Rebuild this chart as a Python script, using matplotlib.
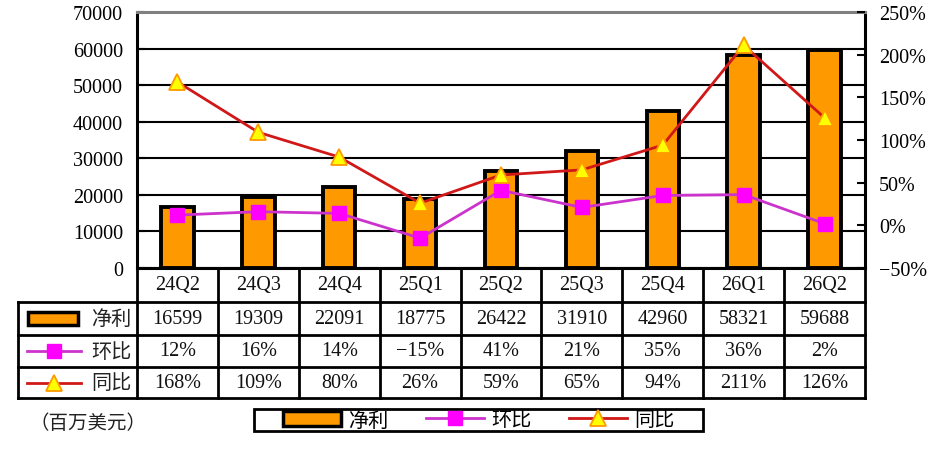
import matplotlib
matplotlib.use('Agg')
import matplotlib.pyplot as plt
import matplotlib.transforms as mtransforms
from matplotlib.lines import Line2D
from matplotlib.patches import Patch, Rectangle
from matplotlib.ticker import FuncFormatter, MultipleLocator

plt.rcParams['font.family'] = ['Liberation Serif', 'Noto Sans CJK SC']
plt.rcParams['axes.unicode_minus'] = True

quarters = ['24Q2', '24Q3', '24Q4', '25Q1', '25Q2', '25Q3', '25Q4', '26Q1', '26Q2']
net_profit = [16599, 19309, 22091, 18775, 26422, 31910, 42960, 58321, 59688]
qoq = [12, 16, 14, -15, 41, 21, 35, 36, 2]
yoy = [168, 109, 80, 26, 59, 65, 94, 211, 126]
row_names = ['净利', '环比', '同比']
unit_label = '（百万美元）'

ORANGE = '#FF9900'
MAGENTA = '#FF00FF'
PURPLE_LINE = '#CC33CC'
RED = '#D01818'
YELLOW = '#FFFF00'
NUM_SIZE = 14.5

W, H = 940, 460
fig = plt.figure(figsize=(W / 100, H / 100), dpi=100)


def fx(x):
    return x / W


def fy(y):
    return 1 - y / H


# plot area in pixels
L, R, T, B = 137, 865, 13, 269
ax = fig.add_axes([fx(L), fy(B), (R - L) / W, (B - T) / H])
n = len(quarters)
xs = list(range(n))
ax.set_xlim(-0.5, n - 0.5)
ax.set_ylim(0, 70000)
ax.yaxis.set_major_locator(MultipleLocator(10000))
ax.grid(axis='y', color='black', lw=1.5)
ax.set_axisbelow(True)
ax.bar(xs, net_profit, width=0.4, color=ORANGE, edgecolor='black', lw=2.8, zorder=2)
ax.set_xticks([])
ax.tick_params(axis='y', direction='in', length=6, width=1.5, labelsize=NUM_SIZE, pad=10)
for s in ['left', 'right', 'bottom']:
    ax.spines[s].set_linewidth(2.2)
    ax.spines[s].set_color('black')
ax.spines['top'].set_color('#808080')
ax.spines['top'].set_linewidth(2.2)

ax2 = ax.twinx()
ax2.set_ylim(-50, 250)
ax2.yaxis.set_major_locator(MultipleLocator(50))
ax2.yaxis.set_major_formatter(FuncFormatter(lambda v, p: f'{v:.0f}%'.replace('-', '\u2212')))
ax2.tick_params(axis='y', direction='in', length=6, width=1.5, labelsize=NUM_SIZE, pad=10)
for s in ax2.spines.values():
    s.set_visible(False)
ax2.plot(xs, qoq, color=PURPLE_LINE, lw=2, marker='s', ms=10, mfc=MAGENTA, mec=MAGENTA, zorder=3)
ax2.plot(xs, yoy, color=RED, lw=2, marker='^', ms=11, mfc=YELLOW, mec=ORANGE, mew=1.3, zorder=4)

# data table below the plot
tr = mtransforms.blended_transform_factory(ax.transData, ax.transAxes)
cell = (R - L) / n
ph = B - T


def ay(y):
    return (B - y) / ph


rows_y = [269, 303, 336, 368, 399]
head_x = -0.5 - (L - 18) / cell
lkw = dict(color='black', lw=2, transform=tr, clip_on=False)
# horizontal lines
ax.add_line(Line2D([-0.5, n - 0.5], [ay(rows_y[0])] * 2, **lkw))
for y in rows_y[1:]:
    ax.add_line(Line2D([head_x, n - 0.5], [ay(y)] * 2, **lkw))
# vertical lines
for i in range(n + 1):
    ax.add_line(Line2D([i - 0.5, i - 0.5], [ay(rows_y[0]), ay(rows_y[-1])], **lkw))
ax.add_line(Line2D([head_x, head_x], [ay(rows_y[1]), ay(rows_y[-1])], **lkw))

tkw = dict(transform=tr, ha='center', va='center', fontsize=NUM_SIZE, clip_on=False, color='#111111')
row_texts = [
    quarters,
    [str(v) for v in net_profit],
    [f'{v}%'.replace('-', '\u2212') for v in qoq],
    [f'{v}%' for v in yoy],
]
for r, texts in enumerate(row_texts):
    yc = ay((rows_y[r] + rows_y[r + 1]) / 2)
    for i, t in enumerate(texts):
        ax.text(i, yc, t, **tkw)

# row header icons and names
for r, name in enumerate(row_names):
    yc = (rows_y[r + 1] + rows_y[r + 2]) / 2
    fig.text(fx(111), fy(yc), name, ha='center', va='center', fontsize=14.5,
             family='Noto Sans CJK SC', color='#222222')
    if r == 0:
        fig.add_artist(Rectangle((fx(28), fy(yc + 6)), 50 / W, 13 / H, transform=fig.transFigure,
                                 facecolor=ORANGE, edgecolor='black', lw=2.5))
    elif r == 1:
        fig.add_artist(Line2D([fx(27), fx(81)], [fy(yc)] * 2, color=PURPLE_LINE, lw=2))
        fig.add_artist(Line2D([fx(54)], [fy(yc)], marker='s', ms=10, mfc=MAGENTA, mec=MAGENTA))
    else:
        fig.add_artist(Line2D([fx(27), fx(81)], [fy(yc)] * 2, color=RED, lw=2))
        fig.add_artist(Line2D([fx(54)], [fy(yc)], marker='^', ms=11, mfc=YELLOW, mec=ORANGE, mew=1.3))

fig.text(fx(88), fy(424), unit_label, ha='center', va='center', fontsize=14,
         family='Noto Sans CJK SC', color='#222222')

# bottom legend with a fixed frame
box = (254, 410, 703, 432)
fig.add_artist(Rectangle((fx(box[0]), fy(box[3])), (box[2] - box[0]) / W, (box[3] - box[1]) / H,
                         transform=fig.transFigure, facecolor='white', edgecolor='black', lw=2))
handles = [
    Patch(facecolor=ORANGE, edgecolor='black', lw=2.5),
    Line2D([], [], color=PURPLE_LINE, lw=2, marker='s', ms=10, mfc=MAGENTA, mec=MAGENTA),
    Line2D([], [], color=RED, lw=2, marker='^', ms=11, mfc=YELLOW, mec=ORANGE, mew=1.3),
]
leg = fig.legend(handles, row_names, loc='center', ncol=3,
                 bbox_to_anchor=(fx((box[0] + box[2]) / 2), fy((box[1] + box[3]) / 2)),
                 prop={'family': 'Noto Sans CJK SC', 'size': 14.5},
                 handlelength=2.9, handleheight=0.75, columnspacing=1.85, handletextpad=0.35,
                 borderpad=0, borderaxespad=0, frameon=False)

fig.savefig('out.png', dpi=100)
